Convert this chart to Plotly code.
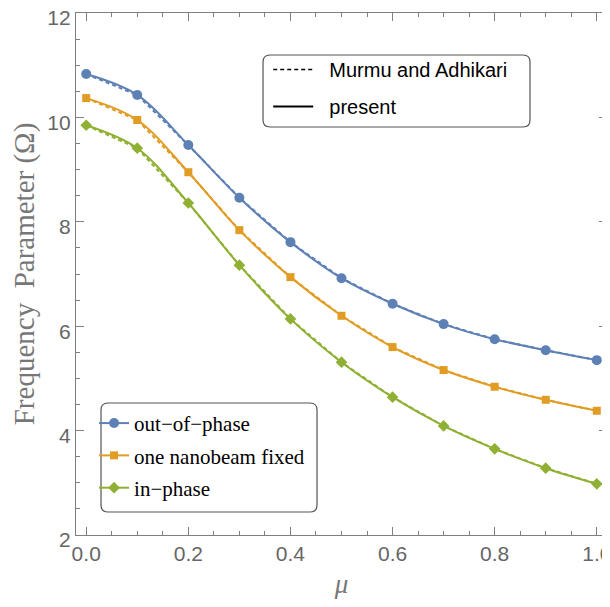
import plotly.graph_objects as go

mu = [0.0, 0.1, 0.2, 0.3, 0.4, 0.5, 0.6, 0.7, 0.8, 0.9, 1.0]

# Murmu and Adhikari (reference values)
murmu_out = [10.83, 10.43, 9.47, 8.46, 7.61, 6.92, 6.43, 6.04, 5.75, 5.54, 5.35]
murmu_fixed = [10.37, 9.95, 8.95, 7.84, 6.94, 6.20, 5.60, 5.16, 4.84, 4.59, 4.38]
murmu_in = [9.85, 9.41, 8.36, 7.17, 6.14, 5.31, 4.64, 4.09, 3.65, 3.28, 2.98]

# present study
present_out = [10.83, 10.43, 9.47, 8.46, 7.61, 6.92, 6.43, 6.04, 5.75, 5.54, 5.35]
present_fixed = [10.37, 9.95, 8.95, 7.84, 6.94, 6.20, 5.60, 5.16, 4.84, 4.59, 4.38]
present_in = [9.85, 9.41, 8.36, 7.17, 6.14, 5.31, 4.64, 4.09, 3.65, 3.28, 2.98]

x_ticks = [0, 0.2, 0.4, 0.6, 0.8, 1.0]
x_ticktext = ["0.0", "0.2", "0.4", "0.6", "0.8", "1.0"]
y_ticks = [2, 4, 6, 8, 10, 12]

names = ["out\u2212of\u2212phase", "one nanobeam fixed", "in\u2212phase"]
colors = ["#5E81B5", "#E19C24", "#8FB032"]
symbols = ["circle", "square", "diamond"]
msizes = [10, 8, 9]

fig = go.Figure()

for ys, c in zip([murmu_out, murmu_fixed, murmu_in], colors):
    fig.add_trace(go.Scatter(x=mu, y=ys, mode="lines",
                             line=dict(color=c, width=2, dash="4px,3px"),
                             showlegend=False, hoverinfo="skip"))

for ys, c, n, s, ms in zip([present_out, present_fixed, present_in], colors, names, symbols, msizes):
    fig.add_trace(go.Scatter(x=mu, y=ys, mode="lines+markers", name=n,
                             line=dict(color=c, width=2, shape="spline", smoothing=1.0),
                             marker=dict(color=c, symbol=s, size=ms),
                             legend="legend2", legendgroup=n))

fig.add_trace(go.Scatter(x=[None], y=[None], mode="lines", name="\u00a0\u00a0Murmu and Adhikari",
                         line=dict(color="black", width=1.5, dash="4px,3px"),
                         legend="legend", legendgroup="m"))
fig.add_trace(go.Scatter(x=[None], y=[None], mode="lines", name="\u00a0\u00a0present",
                         line=dict(color="black", width=2),
                         legend="legend", legendgroup="p"))

# page has an 8px body margin: figure is drawn 8px right/down
W, H = 602, 591
ml, mr, mt, mb = 68, 3, 5, 64
pw, ph = W - ml - mr, H - mt - mb


def rounded_box(x0, y0, x1, y1, r=7):
    rx, ry = r / pw, r / ph
    return (f"M {x0+rx},{y0} L {x1-rx},{y0} Q {x1},{y0} {x1},{y0+ry} "
            f"L {x1},{y1-ry} Q {x1},{y1} {x1-rx},{y1} L {x0+rx},{y1} "
            f"Q {x0},{y1} {x0},{y1-ry} L {x0},{y0+ry} Q {x0},{y0} {x0+rx},{y0} Z")


shapes = [
    dict(type="path", xref="paper", yref="paper", layer="above",
         path=rounded_box(0.3522, 0.7816, 0.855, 0.9195),
         line=dict(color="#555555", width=1.2), fillcolor="white"),
    dict(type="path", xref="paper", yref="paper", layer="above",
         path=rounded_box(0.0471, 0.0441, 0.4539, 0.2529),
         line=dict(color="#555555", width=1.2), fillcolor="white"),
]

axis_common = dict(showline=True, linecolor="#7f7f7f", linewidth=1.2, mirror="ticks",
                   ticks="inside", ticklen=8, tickwidth=1, tickcolor="#7f7f7f",
                   showgrid=False, zeroline=False, ticklabeloverflow="allow",
                   automargin=False,
                   tickfont=dict(family="Liberation Sans, Arial", size=21, color="#666666"))

fig.update_layout(
    width=W, height=H,
    margin=dict(l=ml, r=mr, t=mt, b=mb, autoexpand=False),
    paper_bgcolor="white", plot_bgcolor="white",
    shapes=shapes,
    xaxis=dict(range=[-0.02, 1.02], tickvals=x_ticks, ticktext=x_ticktext,
               minor=dict(dtick=0.05, tick0=0, ticks="inside", ticklen=4, tickcolor="#7f7f7f"),
               title=dict(text="<i>\u03bc</i>", font=dict(family="Liberation Serif, Times New Roman", size=27, color="#777777"), standoff=12),
               **axis_common),
    yaxis=dict(range=[2, 12], tickvals=y_ticks, ticklabelshift=5,
               minor=dict(dtick=0.5, tick0=2, ticks="inside", ticklen=4, tickcolor="#7f7f7f"),
               title=dict(text="Frequency  Parameter (\u03a9)", font=dict(family="Liberation Serif, Times New Roman", size=29, color="#777777"), standoff=14),
               **axis_common),
    legend=dict(x=0.362, y=0.929, xanchor="left", yanchor="top",
                bgcolor="rgba(0,0,0,0)", borderwidth=0,
                font=dict(family="Liberation Sans, Arial", size=20, color="black"),
                itemwidth=40, tracegroupgap=8, traceorder="grouped"),
    legend2=dict(x=0.034, y=0.253, xanchor="left", yanchor="top",
                 bgcolor="rgba(0,0,0,0)", borderwidth=0,
                 font=dict(family="Liberation Serif, Times New Roman", size=21, color="black"),
                 itemwidth=30, tracegroupgap=2, traceorder="grouped"),
)

fig.write_html("out.html")
